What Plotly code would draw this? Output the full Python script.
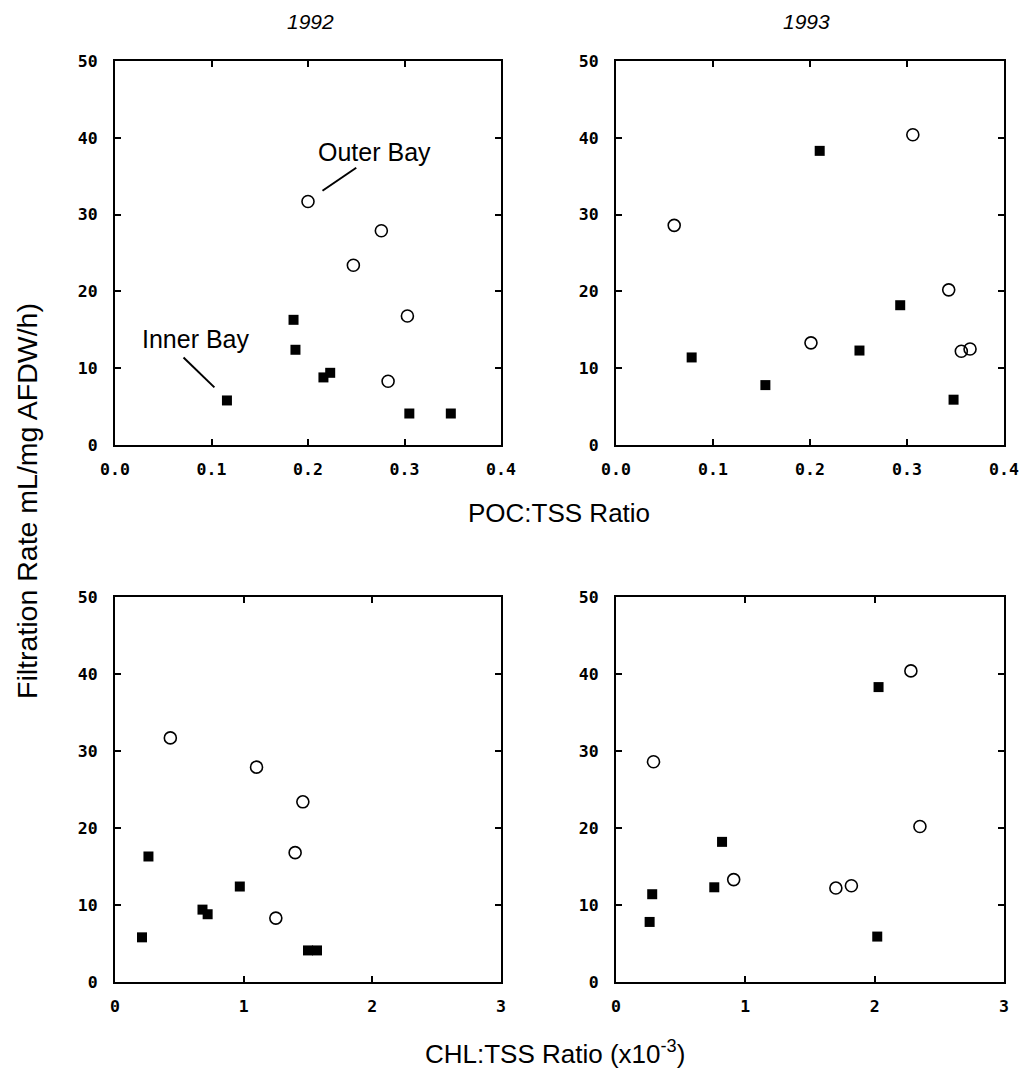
import plotly.graph_objects as go

# ---------------- data ----------------
# 1992
fr92_outer = [31.7, 27.9, 23.4, 16.8, 8.3]
poc92_outer = [0.200, 0.276, 0.247, 0.303, 0.283]
chl92_outer = [0.43, 1.10, 1.46, 1.40, 1.25]

fr92_inner = [16.3, 12.4, 8.8, 9.4, 5.8, 4.1, 4.1]
poc92_inner = [0.185, 0.187, 0.216, 0.223, 0.116, 0.305, 0.348]
chl92_inner = [0.26, 0.97, 0.72, 0.68, 0.21, 1.50, 1.57]

# 1993
fr93_outer = [28.6, 40.4, 13.3, 20.2, 12.2, 12.5]
poc93_outer = [0.060, 0.306, 0.201, 0.343, 0.356, 0.365]
chl93_outer = [0.29, 2.28, 0.91, 2.35, 1.70, 1.82]

fr93_inner = [38.3, 11.4, 7.8, 12.3, 18.2, 5.9]
poc93_inner = [0.210, 0.078, 0.154, 0.251, 0.293, 0.348]
chl93_inner = [2.03, 0.28, 0.26, 0.76, 0.82, 2.02]

poc_ticks = [0.0, 0.1, 0.2, 0.3, 0.4]
chl_ticks = [0, 1, 2, 3]
fr_ticks = [0, 10, 20, 30, 40, 50]

# ---------------- figure ----------------
W, H = 1020, 1079
fig = go.Figure()

outer_style = dict(mode="markers", showlegend=False,
                   marker=dict(symbol="circle-open", size=12, color="black",
                               line=dict(width=1.6, color="black")))
inner_style = dict(mode="markers", showlegend=False,
                   marker=dict(symbol="square", size=10, color="black"))

panels = [
    ("x", "y", poc92_outer, fr92_outer, poc92_inner, fr92_inner),
    ("x2", "y2", poc93_outer, fr93_outer, poc93_inner, fr93_inner),
    ("x3", "y3", chl92_outer, fr92_outer, chl92_inner, fr92_inner),
    ("x4", "y4", chl93_outer, fr93_outer, chl93_inner, fr93_inner),
]
for xa, ya, xo, yo, xi, yi in panels:
    fig.add_trace(go.Scatter(x=xi, y=yi, xaxis=xa, yaxis=ya, **inner_style))
    fig.add_trace(go.Scatter(x=xo, y=yo, xaxis=xa, yaxis=ya, **outer_style))

tickfont = dict(family="DejaVu Sans Mono", size=16.5, color="black", weight="bold")
common = dict(showline=True, mirror="ticks", linecolor="black", linewidth=2,
              ticks="inside", ticklen=6, tickwidth=1.5, tickcolor="black",
              showgrid=False, zeroline=False, tickfont=tickfont, automargin=False)

def px(v):
    return v / W

def py(v):
    return 1 - v / H

xl = [px(115), px(501)]
xr = [px(616), px(1004)]
yt = [py(445), py(61)]
yb = [py(982), py(597)]

xpoc = dict(common, range=[0, 0.4], tickvals=poc_ticks, tickformat=".1f",
            ticklabelstandoff=8)
xchl = dict(common, range=[0, 3], tickvals=chl_ticks, ticklabelstandoff=8)
yfr = dict(common, range=[0, 50], tickvals=fr_ticks, ticklabelstandoff=12)

fig.update_layout(
    width=W, height=H,
    margin=dict(l=0, r=0, t=0, b=0, autoexpand=False),
    paper_bgcolor="white", plot_bgcolor="white",
    font=dict(family="Liberation Sans", color="black"),
    xaxis=dict(xpoc, domain=xl, anchor="y"),
    yaxis=dict(yfr, domain=yt, anchor="x"),
    xaxis2=dict(xpoc, domain=xr, anchor="y2"),
    yaxis2=dict(yfr, domain=yt, anchor="x2"),
    xaxis3=dict(xchl, domain=xl, anchor="y3"),
    yaxis3=dict(yfr, domain=yb, anchor="x3"),
    xaxis4=dict(xchl, domain=xr, anchor="y4"),
    yaxis4=dict(yfr, domain=yb, anchor="x4"),
)

ann = []
lab = dict(family="Liberation Sans", size=21, color="black", style="italic")
ann.append(dict(text="1992", x=px(310), y=py(22), xref="paper", yref="paper",
                showarrow=False, font=lab, xanchor="center", yanchor="middle"))
ann.append(dict(text="1993", x=px(806), y=py(22), xref="paper", yref="paper",
                showarrow=False, font=lab, xanchor="center", yanchor="middle"))
tf = dict(family="Liberation Sans", size=26, color="black")
ann.append(dict(text="POC:TSS Ratio", x=px(559), y=py(513), xref="paper", yref="paper",
                showarrow=False, font=tf, xanchor="center", yanchor="middle"))
ann.append(dict(text="CHL:TSS Ratio (x10<sup>-3</sup>)", x=px(555), y=py(1052),
                xref="paper", yref="paper",
                showarrow=False, font=tf, xanchor="center", yanchor="middle"))
ann.append(dict(text="Filtration Rate mL/mg AFDW/h)", x=px(27), y=py(501),
                xref="paper", yref="paper", textangle=-90,
                showarrow=False, font=dict(family="Liberation Sans", size=28.5, color="black"),
                xanchor="center", yanchor="middle"))
lf = dict(family="Liberation Sans", size=25, color="black")
ann.append(dict(text="Outer Bay", x=0.269, y=38.2, xref="x", yref="y",
                showarrow=False, font=lf, xanchor="center", yanchor="middle"))
ann.append(dict(text="Inner Bay", x=0.084, y=13.8, xref="x", yref="y",
                showarrow=False, font=lf, xanchor="center", yanchor="middle"))
fig.update_layout(annotations=ann)

fig.add_shape(type="line", x0=0.250, y0=36.1, x1=0.215, y1=33.1, xref="x", yref="y",
              line=dict(color="black", width=2))
fig.add_shape(type="line", x0=0.071, y0=11.4, x1=0.103, y1=7.5, xref="x", yref="y",
              line=dict(color="black", width=2))

fig.write_html(
    "out.html",
    config={"displayModeBar": False},
    post_script="document.body.style.margin='0';document.body.style.overflow='hidden';"
                "document.documentElement.style.overflow='hidden';",
)
